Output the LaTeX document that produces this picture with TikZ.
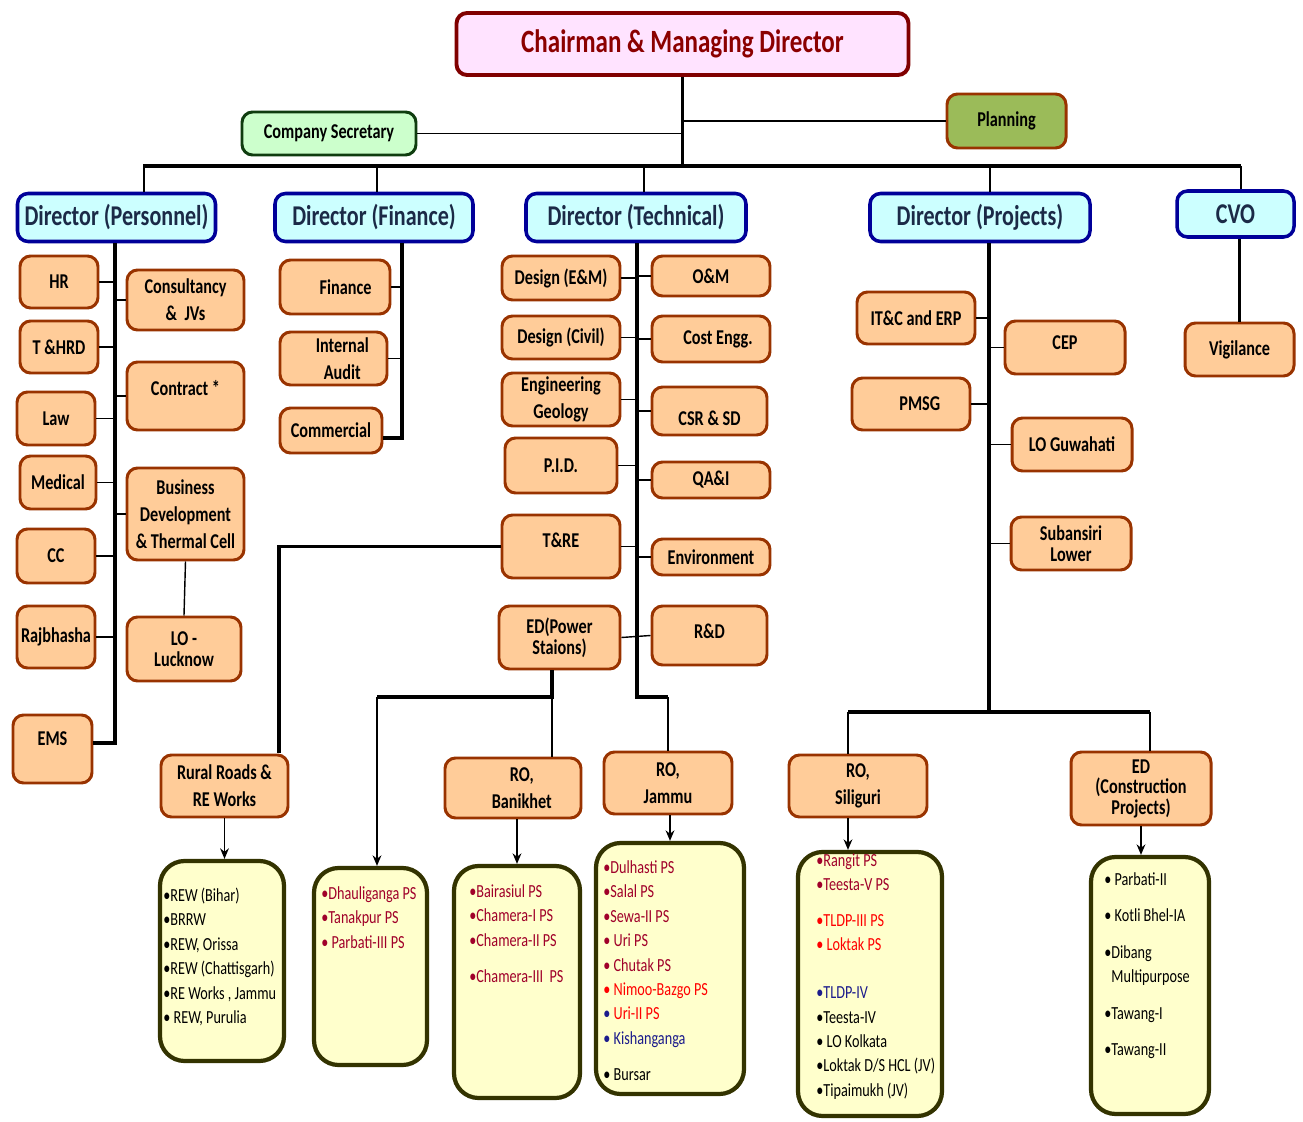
\documentclass[tikz,border=0pt]{standalone}
\usepackage{fontspec}
\setmainfont{Carlito}[FakeStretch=0.77]
\usepackage{xcolor}
\usepackage{tikz}
\usetikzlibrary{arrows.meta}
\definecolor{kastenfill}{HTML}{FFCC99}
\definecolor{kastenrand}{HTML}{993300}
\definecolor{dirfill}{HTML}{CCFFFF}
\definecolor{dirrand}{HTML}{000099}
\definecolor{dirtext}{HTML}{1B2A47}
\definecolor{cmdfill}{HTML}{FFE3FF}
\definecolor{cmdrand}{HTML}{800000}
\definecolor{cmdtext}{HTML}{8B0000}
\definecolor{csfill}{HTML}{CCFFCC}
\definecolor{csrand}{HTML}{0F3D0F}
\definecolor{planfill}{HTML}{9BBB59}
\definecolor{listfill}{HTML}{FFFFCC}
\definecolor{listrand}{HTML}{333300}
\definecolor{dred}{HTML}{A0002A}
\definecolor{rred}{HTML}{FF0000}
\definecolor{bblue}{HTML}{1C1C8C}
\tikzset{
  Kasten/.style={draw=kastenrand, fill=kastenfill, line width=1.7pt, rounded corners=6pt,
    inner sep=1pt, align=center, font=\bfseries\fontsize{12}{15.4}\selectfont}, % orange Kästen
  DKasten/.style={draw=dirrand, fill=dirfill, text=dirtext, line width=2pt, rounded corners=6pt,
    font=\bfseries\fontsize{16.3}{20}\selectfont}, % Direktoren
  LKasten/.style={draw=listrand, fill=listfill, line width=2.4pt, rounded corners=14pt}, % gelbe Listen
  Liste/.style={anchor=north west, align=left, inner sep=0pt, font=\fontsize{10.5}{13.9}\selectfont},
  wh/.style 2 args={minimum width=#1*0.02cm, minimum height=#2*0.02cm},
  Bus/.style={line width=2.6pt},
  Stamm/.style={line width=1.8pt},
  Ast/.style={line width=0.8pt},
  Pfeil/.style={line width=0.8pt,->}
}

\begin{document}
\begin{tikzpicture}[x=0.02cm, y=-0.02cm,
>={Stealth[length=6pt,width=5pt]} % Pfeilspitzen
]
\useasboundingbox (0,0) rectangle (1303,1122);

%Spitze
\node[Kasten, draw=cmdrand, fill=cmdfill, text=cmdtext, line width=2.2pt, wh={452}{62},
  font=\bfseries\fontsize{18.5}{22}\selectfont] (CMD) at (682.5,44) {Chairman \& Managing Director};
\node[Kasten, draw=csrand, fill=csfill, wh={174}{43}] (CS) at (329,133.5) {Company Secretary};
\node[Kasten, fill=planfill, wh={119}{54}] (Plan) at (1006.5,121) {Planning};

%Direktoren
\node[DKasten, wh={198}{48}] (DPers) at (116.5,217.5) {Director (Personnel)};
\node[DKasten, wh={198}{48}] (DFin)  at (374,217.5) {Director (Finance)};
\node[DKasten, wh={220}{48}] (DTech) at (636,217.5) {Director (Technical)};
\node[DKasten, wh={220}{48}] (DProj) at (980,217.5) {Director (Projects)};
\node[DKasten, wh={117}{46}] (CVO)   at (1235.5,214) {CVO};

%Personnel
\node[Kasten, wh={78}{52}] (HR)        at (59,282)    {HR};
\node[Kasten, wh={78}{52}] (THRD)      at (59,347)    {T \&HRD};
\node[Kasten, wh={78}{53}] (Law)       at (56,418.5)  {Law};
\node[Kasten, wh={76}{53}] (Medical)   at (58,482.5)  {Medical};
\node[Kasten, wh={78}{54}] (CC)        at (56,556)    {CC};
\node[Kasten, wh={78}{62}] (Rajbhasha) at (56,637)    {Rajbhasha};
\node[Kasten, wh={79}{68}] (EMS)       at (52.5,749)  {EMS\\[-4pt]};
\node[Kasten, wh={117}{60}] (Consult)  at (185.5,300) {Consultancy\\\&\ \ JVs};
\node[Kasten, wh={117}{68}] (Contract) at (185.5,396) {Contract *\\[-6pt]};
\node[Kasten, wh={117}{92}] (BD)       at (185.5,514) {Business\\Development\\\& Thermal Cell};
\node[Kasten, wh={114}{64}, font=\bfseries\fontsize{12}{12}\selectfont] (LOL) at (184,649) {LO -\\Lucknow};

%Finance
\node[Kasten, wh={110}{54}] (Fin)        at (335,287)    {\hspace*{12pt}Finance};
\node[Kasten, wh={107}{53}] (IAudit)     at (333.5,358.5) {\hspace*{10pt}Internal\\\hspace*{10pt}Audit};
\node[Kasten, wh={102}{45}] (Commercial) at (331,430.5)  {Commercial};

%Technical
\node[Kasten, wh={118}{44}] (DEM)    at (561,278)   {Design (E\&M)};
\node[Kasten, wh={118}{43}] (DCivil) at (561,337.5) {Design (Civil)};
\node[Kasten, wh={118}{53}] (EG)     at (561,399.5) {Engineering\\Geology};
\node[Kasten, wh={112}{55}] (PID)    at (561,465.5) {P.I.D.};
\node[Kasten, wh={118}{63}] (TRE)    at (561,546.5) {T\&RE\\[-8pt]};
\node[Kasten, wh={121}{63}, font=\bfseries\fontsize{12}{7.4}\selectfont] (EDPS) at (559.5,637.5) {ED(Power\\Staions)};
\node[Kasten, wh={118}{40}] (OM)   at (711,276)   {O\&M};
\node[Kasten, wh={118}{46}] (Cost) at (711,339)   {\hspace*{8pt}Cost Engg.};
\node[Kasten, wh={115}{48}] (CSR)  at (709.5,411) {\\[1pt]CSR \& SD};
\node[Kasten, wh={118}{36}] (QAI)  at (711,480)   {QA\&I};
\node[Kasten, wh={118}{36}] (Env)  at (711,557)   {Environment};
\node[Kasten, wh={115}{59}] (RD)   at (709.5,635.5) {R\&D\\[-10pt]};

%Projects
\node[Kasten, wh={118}{52}] (ITC)  at (916,318)    {IT\&C and ERP};
\node[Kasten, wh={118}{52}] (PMSG) at (911,404)    {\hspace*{10pt}PMSG};
\node[Kasten, wh={120}{53}] (CEP)  at (1065,347.5) {CEP\\[-10pt]};
\node[Kasten, wh={120}{53}] (LOG)  at (1072,444.5) {LO Guwahati};
\node[Kasten, wh={120}{53}, font=\bfseries\fontsize{12}{12}\selectfont] (Sub) at (1071,543.5) {Subansiri\\Lower};
\node[Kasten, wh={109}{53}] (Vig)  at (1239.5,349.5) {Vigilance};

%untere Ebene
\node[Kasten, wh={127}{62}] (RR)   at (224.5,786) {Rural Roads \&\\RE Works};
\node[Kasten, wh={136}{60}] (ROB)  at (513,788)   {\hspace*{10pt}RO,\\\hspace*{10pt}Banikhet};
\node[Kasten, wh={128}{62}] (ROJ)  at (668,783)   {RO,\\Jammu};
\node[Kasten, wh={138}{62}] (ROS)  at (858,786)   {RO,\\Siliguri};
\node[Kasten, wh={140}{73}, font=\bfseries\fontsize{12}{11.7}\selectfont] (EDCP) at (1141,788.5) {ED\\(Construction\\Projects)};

%Listen
\node[LKasten, wh={124}{200}] (LRR)  at (222,961)   {};
\node[LKasten, wh={113}{197}] (LDh)  at (370.5,966.5) {};
\node[LKasten, wh={126}{232}] (LBan) at (517,982)   {};
\node[LKasten, wh={148}{251}] (LJam) at (670,968.5) {};
\node[LKasten, wh={144}{264}] (LSil) at (870,984)   {};
\node[LKasten, wh={118}{257}] (LED)  at (1150,985.5) {};

\node[Liste] (tRR) at (163,883.4) {\rule{0pt}{10pt}•REW (Bihar)\\•BRRW\\•REW, Orissa\\•REW (Chattisgarh)\\•RE Works , Jammu\\• REW, Purulia};
\node[Liste, text=dred] (tDh) at (321,881.4) {\rule{0pt}{10pt}•Dhauliganga PS\\•Tanakpur PS\\• Parbati-III PS};
\node[Liste, text=dred] (tBan) at (469,879.4) {\rule{0pt}{10pt}•Bairasiul PS\\•Chamera-I PS\\•Chamera-II PS\\[6.5pt]•Chamera-III\ \ PS};
\node[Liste] (tJam) at (603,855.4) {\rule{0pt}{10pt}\textcolor{dred}{•Dulhasti PS}\\\textcolor{dred}{•Salal PS}\\
  \textcolor{dred}{•Sewa-II PS}\\\textcolor{dred}{• Uri PS}\\\textcolor{dred}{• Chutak PS}\\
  \textcolor{rred}{• Nimoo-Bazgo PS}\\\textcolor{bblue}{•} \textcolor{rred}{Uri-II PS}\\
  \textcolor{bblue}{• Kishanganga}\\[7pt]• Bursar};
\node[Liste] (tSil) at (816,848.4) {\rule{0pt}{10pt}\textcolor{dred}{•Rangit PS}\\\textcolor{dred}{•Teesta-V PS}\\[6.3pt]
  \textcolor{rred}{•TLDP-III PS}\\\textcolor{rred}{• Loktak PS}\\[13.4pt]
  \textcolor{bblue}{•TLDP-IV}\\•Teesta-IV\\• LO Kolkata\\•Loktak D/S HCL (JV)\\•Tipaimukh (JV)};
\node[Liste] (tED) at (1104,867.4) {\rule{0pt}{10pt}• Parbati-II\\[6.9pt]• Kotli Bhel-IA\\[6.9pt]•Dibang\\
  \phantom{•}Multipurpose\\[6.9pt]•Tawang-I\\[6.9pt]•Tawang-II};

%Leitungen oben
\coordinate (busL) at (143,166);
\coordinate (busR) at (1241,166);
\draw[Stamm] (CMD.south) -- (CMD.south |- busL);
\draw[Ast] (CS.east) -- (CS.east -| CMD.south);
\draw[Ast] (Plan.west) -- (Plan.west -| CMD.south);
\draw[Bus] (busL) -- (busR);
\foreach \d/\x in {DPers/144,DFin/377,DTech/644,DProj/990,CVO/1241}
  \draw[Ast] (\x,166) -- (\x,0 |- \d.north);

%Personnel
\coordinate (pS) at (115,743);
\draw[Stamm] (DPers.south -| pS) -- (pS) -- (pS -| EMS.east);
\foreach \b in {HR,THRD,Law,Medical,CC,Rajbhasha}
  \draw[Ast] (\b.east) -- (\b.east -| pS);
\foreach \b in {Consult,Contract,BD}
  \draw[Ast] (\b.west) -- (\b.west -| pS);
\draw[Ast] (BD.south) -- (LOL.north);

%Finance
\coordinate (fS) at (402,438);
\draw[Stamm] (DFin.south -| fS) -- (fS) -- (fS -| Commercial.east);
\foreach \b in {Fin,IAudit}
  \draw[Ast] (\b.east) -- (\b.east -| fS);

%Technical
\coordinate (tS) at (637,697);
\draw[Stamm] (DTech.south -| tS) -- (tS) -- (tS -| ROJ.north);
\draw[Ast] (tS -| ROJ.north) -- (ROJ.north);
\foreach \b in {DEM,DCivil,EG,PID,TRE}
  \draw[Ast] (\b.east) -- (\b.east -| tS);
\foreach \b in {OM,Cost,CSR,QAI,Env}
  \draw[Ast] (\b.west) -- (\b.west -| tS);
\draw[Ast] (EDPS.east) -- (RD.west);
\coordinate (rS) at (279,753);
\draw[Stamm] (TRE.west) -- (TRE.west -| rS) -- (rS);
\coordinate (eP) at (552,697);
\coordinate (eD) at (377,697);
\draw[Stamm] (EDPS.south -| eP) -- (eP) -- (eD);
\draw[Pfeil] (eD) -- (eD |- LDh.north);
\draw[Ast] (eP) -- (eP |- ROB.north);

%Projects
\coordinate (jS) at (989,712);
\coordinate (jL) at (848,712);
\coordinate (jR) at (1150,712);
\draw[Stamm] (DProj.south -| jS) -- (jS);
\draw[Bus] (jL) -- (jR);
\draw[Ast] (jL) -- (jL |- ROS.north);
\draw[Ast] (jR) -- (jR |- EDCP.north);
\foreach \b in {ITC,PMSG}
  \draw[Ast] (\b.east) -- (\b.east -| jS);
\foreach \b in {CEP,LOG,Sub}
  \draw[Ast] (\b.west) -- (\b.west -| jS);

%CVO
\draw[Stamm] (Vig.north |- CVO.south) -- (Vig.north);

%Pfeile zu den Listen
\draw[Pfeil] (RR.south) -- (RR.south |- LRR.north);
\draw[Pfeil] (LBan.north |- ROB.south) -- (LBan.north);
\draw[Pfeil] (LJam.north |- ROJ.south) -- (LJam.north);
\draw[Pfeil] (jL |- ROS.south) -- (jL |- LSil.north);
\draw[Pfeil] (EDCP.south) -- (EDCP.south |- LED.north);

\end{tikzpicture}
\end{document}
